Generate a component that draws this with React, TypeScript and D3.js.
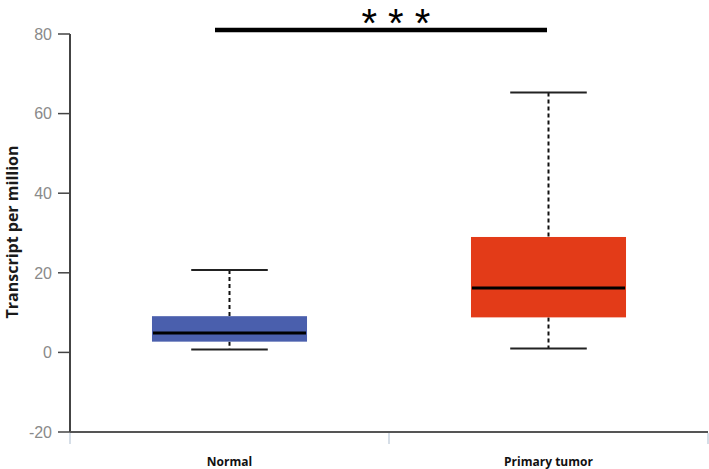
import React from "react";
import * as d3 from "d3";

const categories = ["Normal", "Primary tumor"];
const whiskerLow = [0.7, 1.0];
const q1 = [2.7, 8.8];
const medians = [4.85, 16.2];
const q3 = [9.1, 29.0];
const whiskerHigh = [20.7, 65.3];
const colors = ["#4a5fad", "#e33b18"];
const yTicks = [-20, 0, 20, 40, 60, 80];
const significance = "***";

export default function App() {
  const W = 709, H = 469;
  const x = d3.scaleBand().domain(categories).range([70, 708]).paddingInner(0).paddingOuter(0);
  const y = d3.scaleLinear().domain([-20, 80]).range([432, 34]);
  const boxW = x.bandwidth() * 0.486;
  const capW = x.bandwidth() * 0.24;

  return (
    <svg width={W} height={H} style={{ position: "absolute", left: 0, top: 0, background: "#fff" }}>
      {/* y axis */}
      <line x1={70} x2={70} y1={y(80)} y2={y(-20)} stroke="#444" strokeWidth={2} />
      {yTicks.map((t) => (
        <g key={t}>
          <line x1={58} x2={70} y1={y(t)} y2={y(t)} stroke="#444" strokeWidth={1.5} />
          <text x={52} y={y(t)} dy="0.36em" textAnchor="end" fontFamily="Liberation Sans, Arial, sans-serif" fontSize={16} fill="#8a8a8a">{t}</text>
        </g>
      ))}
      <text transform={`translate(17.5,${232}) rotate(-90)`} textAnchor="middle" fontFamily="Open Sans, sans-serif" fontWeight="bold" fontSize={16} fill="#1a1a1a">Transcript per million</text>
      {/* x axis */}
      <line x1={70} x2={708} y1={y(-20)} y2={y(-20)} stroke="#555" strokeWidth={2} />
      {[70, ...categories.map((c) => (x(c) as number) + x.bandwidth())].map((px, i) => (
        <line key={i} x1={px} x2={px} y1={y(-20) + 1} y2={y(-20) + 12} stroke="#c9d3df" strokeWidth={1.5} />
      ))}
      {categories.map((c) => (
        <text key={c} x={(x(c) as number) + x.bandwidth() / 2} y={466} textAnchor="middle" fontFamily="Open Sans, sans-serif" fontWeight="bold" fontSize={12} fill="#111">{c}</text>
      ))}
      {/* boxes */}
      {categories.map((c, i) => {
        const cx = (x(c) as number) + x.bandwidth() / 2;
        return (
          <g key={c}>
            <line x1={cx} x2={cx} y1={y(whiskerHigh[i])} y2={y(q3[i])} stroke="#111" strokeWidth={2} strokeDasharray="4,3" />
            <line x1={cx} x2={cx} y1={y(q1[i])} y2={y(whiskerLow[i])} stroke="#111" strokeWidth={2} strokeDasharray="4,3" />
            <line x1={cx - capW / 2} x2={cx + capW / 2} y1={y(whiskerHigh[i])} y2={y(whiskerHigh[i])} stroke="#222" strokeWidth={2} />
            <line x1={cx - capW / 2} x2={cx + capW / 2} y1={y(whiskerLow[i])} y2={y(whiskerLow[i])} stroke="#222" strokeWidth={2} />
            <rect x={cx - boxW / 2} y={y(q3[i])} width={boxW} height={y(q1[i]) - y(q3[i])} fill={colors[i]} />
            <line x1={cx - boxW / 2 + 1} x2={cx + boxW / 2 - 1} y1={y(medians[i])} y2={y(medians[i])} stroke="#000" strokeWidth={3} />
          </g>
        );
      })}
      {/* significance */}
      <line x1={215} x2={547} y1={30} y2={30} stroke="#000" strokeWidth={4.5} />
      <text x={361.5} y={36.5} textAnchor="start" fontFamily="Liberation Sans, Arial, sans-serif" fontSize={40} letterSpacing={11} fill="#000">{significance}</text>
    </svg>
  );
}
